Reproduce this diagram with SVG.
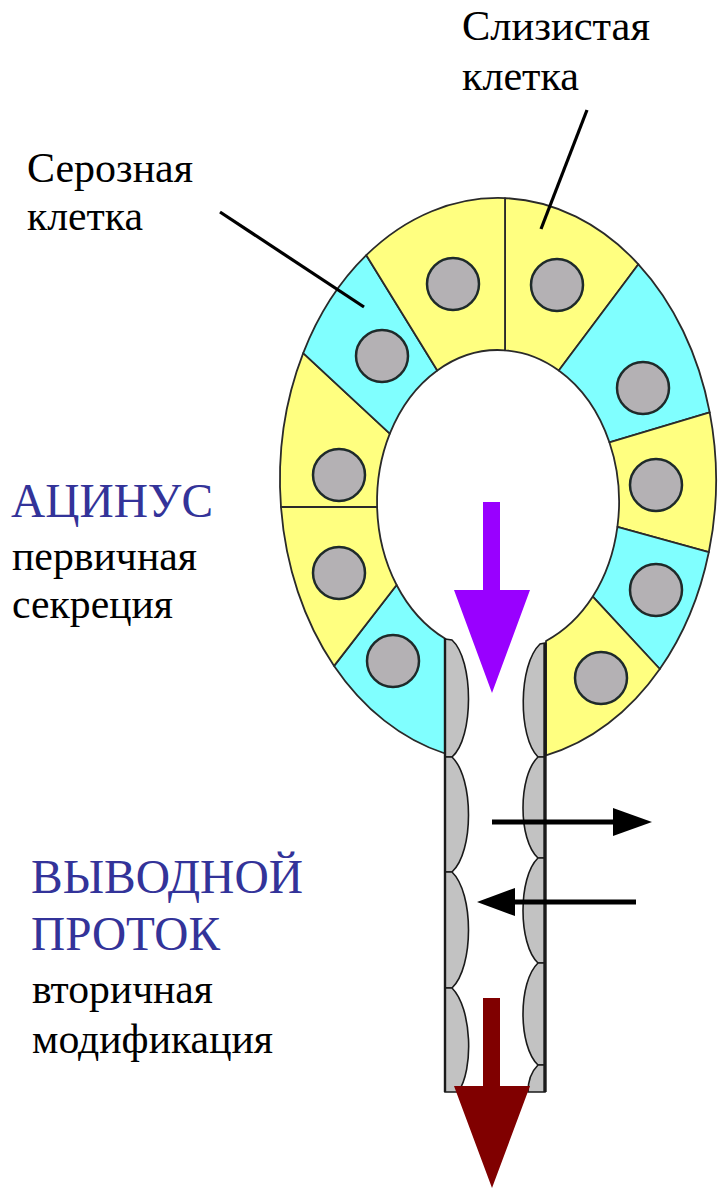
<svg xmlns="http://www.w3.org/2000/svg" width="719" height="1190" viewBox="0 0 719 1190" xml:lang="ru">
  <defs>
    <!-- shared nucleus shape -->
    <circle id="nucleus" r="26" fill="#b4b1b4" stroke="#1e2a2a" stroke-width="2.5"/>
  </defs>

  <rect width="719" height="1190" fill="#ffffff"/>

  <!-- Acinus: ring of secretory cells (outer ellipse c=498,480 r=218x282; lumen c=498,502 r=121x152) -->
  <g id="acinus" stroke="#2a2a2a" stroke-width="1.8" stroke-linejoin="round">
    <g id="cell-top-right">
      <path fill="#ffff80" d="M505,198.1 A218,282 0 0 1 638.4,264.3 L558.8,370.5 A121,152 0 0 0 505,350.3 Z"/>
      <use href="#nucleus" x="557" y="285"/>
    </g>
    <g id="cell-right-1">
      <path fill="#80ffff" d="M638.4,264.3 A218,282 0 0 1 709.7,412.3 L609.4,442.3 A121,152 0 0 0 558.8,370.5 Z"/>
      <use href="#nucleus" x="643" y="388"/>
    </g>
    <g id="cell-right-2">
      <path fill="#ffff80" d="M709.7,412.3 A218,282 0 0 1 708.8,552.2 L617.4,526.9 A121,152 0 0 0 609.4,442.3 Z"/>
      <use href="#nucleus" x="656" y="485"/>
    </g>
    <g id="cell-right-3">
      <path fill="#80ffff" d="M708.8,552.2 A218,282 0 0 1 659.8,669 L592.8,596.6 A121,152 0 0 0 617.4,526.9 Z"/>
      <use href="#nucleus" x="656" y="590"/>
    </g>
    <g id="cell-right-4">
      <path fill="#ffff80" d="M659.8,669 A218,282 0 0 1 546,755.3 L546,641 A121,152 0 0 0 592.8,596.6 Z"/>
      <use href="#nucleus" x="601" y="678"/>
    </g>
    <g id="cell-left-4">
      <path fill="#80ffff" d="M445,753.5 A218,282 0 0 1 334.1,665.9 L396.6,585 A121,152 0 0 0 445,638.6 Z"/>
      <use href="#nucleus" x="393" y="661"/>
    </g>
    <g id="cell-left-3">
      <path fill="#ffff80" d="M334.1,665.9 A218,282 0 0 1 281,507 L377.1,507 A121,152 0 0 0 396.6,585 Z"/>
      <use href="#nucleus" x="339" y="573"/>
    </g>
    <g id="cell-left-2">
      <path fill="#ffff80" d="M281,507 A218,282 0 0 1 303.2,353.1 L389.8,433.7 A121,152 0 0 0 377.1,507 Z"/>
      <use href="#nucleus" x="339" y="475"/>
    </g>
    <g id="cell-left-1">
      <path fill="#80ffff" d="M303.2,353.1 A218,282 0 0 1 366.3,255.2 L437.3,370.5 A121,152 0 0 0 389.8,433.7 Z"/>
      <use href="#nucleus" x="382" y="356"/>
    </g>
    <g id="cell-top-left">
      <path fill="#ffff80" d="M366.3,255.2 A218,282 0 0 1 505,198.1 L505,350.3 A121,152 0 0 0 437.3,370.5 Z"/>
      <use href="#nucleus" x="453" y="284"/>
    </g>
  </g>

  <!-- Excretory duct: two walls lined with flat epithelial cells -->
  <g id="duct">
    <g id="duct-left-cells" fill="#c2c2c2" stroke="#1a1a1a" stroke-width="1.6">
      <path d="M445,639 L452,640 C474,660 474,738 452,757 L445,757 Z"/>
      <path d="M445,757 L452,757 C474,778 474,852 452,872 L445,872 Z"/>
      <path d="M445,872 L452,872 C474,893 474,967 452,988 L445,988 Z"/>
      <path d="M445,988 L452,988 C472,1008 474,1070 458,1092 L445,1092 Z"/>
    </g>
    <g id="duct-right-cells" fill="#c2c2c2" stroke="#1a1a1a" stroke-width="1.6">
      <path d="M545,643 L540,644 C518,665 518,737 538,757 L545,757 Z"/>
      <path d="M545,757 L538,757 C518,776 518,840 538,858 L545,858 Z"/>
      <path d="M545,858 L538,858 C518,877 518,944 538,963 L545,963 Z"/>
      <path d="M545,963 L538,963 C518,982 518,1046 538,1065 L545,1065 Z"/>
      <path d="M545,1065 L538,1065 C530,1073 528,1084 528,1092 L545,1092 Z"/>
    </g>
    <line x1="445" y1="638" x2="445" y2="1092" stroke="#1a1a1a" stroke-width="2.4"/>
    <line x1="545" y1="643" x2="545" y2="1092" stroke="#1a1a1a" stroke-width="3.4"/>
  </g>

  <!-- Labels -->
  <g id="label-mucous" fill="#000">
    <text x="462" y="40" font-family="Liberation Serif, Times New Roman, DejaVu Serif, serif" font-size="43" textLength="188" lengthAdjust="spacingAndGlyphs">Слизистая</text>
    <text x="462" y="90" font-family="Liberation Serif, Times New Roman, DejaVu Serif, serif" font-size="43" textLength="117" lengthAdjust="spacingAndGlyphs">клетка</text>
  </g>
  <g id="label-serous" fill="#000">
    <text x="27" y="182" font-family="Liberation Serif, Times New Roman, DejaVu Serif, serif" font-size="43" textLength="166" lengthAdjust="spacingAndGlyphs">Серозная</text>
    <text x="27" y="230" font-family="Liberation Serif, Times New Roman, DejaVu Serif, serif" font-size="43" textLength="116" lengthAdjust="spacingAndGlyphs">клетка</text>
  </g>
  <g id="label-acinus" fill="#000">
    <text x="11" y="517" font-family="Liberation Serif, Times New Roman, DejaVu Serif, serif" font-size="48" fill="#333399" textLength="202" lengthAdjust="spacingAndGlyphs">АЦИНУС</text>
    <text x="12" y="570" font-family="Liberation Serif, Times New Roman, DejaVu Serif, serif" font-size="43" textLength="185" lengthAdjust="spacingAndGlyphs">первичная</text>
    <text x="12" y="618" font-family="Liberation Serif, Times New Roman, DejaVu Serif, serif" font-size="43" textLength="161" lengthAdjust="spacingAndGlyphs">секреция</text>
  </g>
  <g id="label-duct" fill="#000">
    <text x="31" y="893" font-family="Liberation Serif, Times New Roman, DejaVu Serif, serif" font-size="48" fill="#333399" textLength="272" lengthAdjust="spacingAndGlyphs">ВЫВОДНОЙ</text>
    <text x="31" y="950" font-family="Liberation Serif, Times New Roman, DejaVu Serif, serif" font-size="48" fill="#333399" textLength="189" lengthAdjust="spacingAndGlyphs">ПРОТОК</text>
    <text x="32" y="1003" font-family="Liberation Serif, Times New Roman, DejaVu Serif, serif" font-size="43" textLength="181" lengthAdjust="spacingAndGlyphs">вторичная</text>
    <text x="32" y="1053" font-family="Liberation Serif, Times New Roman, DejaVu Serif, serif" font-size="43" textLength="241" lengthAdjust="spacingAndGlyphs">модификация</text>
  </g>

  <!-- Connectors: pointer lines and flow arrows -->
  <g id="connectors">
    <g stroke="#000" stroke-width="3.2">
      <line x1="220" y1="212" x2="364" y2="307"/>
      <line x1="587" y1="110" x2="541" y2="229"/>
    </g>
    <polygon fill="#9900ff" points="483,502 500,502 500,590 530,590 492,693 454,590 483,590"/>
    <line x1="492" y1="822" x2="616" y2="822" stroke="#000" stroke-width="5"/>
    <polygon fill="#000" points="613,808 652,822 613,836"/>
    <line x1="636" y1="902" x2="512" y2="902" stroke="#000" stroke-width="5"/>
    <polygon fill="#000" points="515,888 477,902 515,916"/>
    <polygon fill="#800000" points="483,998 500,998 500,1086 530,1086 492,1188 454,1086 483,1086"/>
  </g>
</svg>
